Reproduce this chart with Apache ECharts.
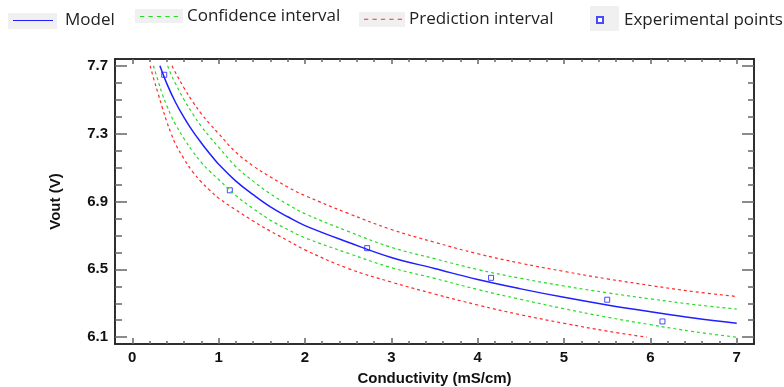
<!DOCTYPE html>
<html>
<head>
<meta charset="utf-8">
<script src="https://cdn.jsdelivr.net/npm/echarts@6/dist/echarts.min.js"></script>
<style>
  html, body { margin: 0; padding: 0; background: #fff; }
  #chart { width: 784px; height: 387px; }
</style>
</head>
<body>
<div id="chart"></div>
<script>
// values: [conductivity, vout]
const model = [[0.32,7.70],[0.4,7.595],[0.5,7.485],[0.6,7.395],[0.7,7.315],[0.8,7.245],[0.9,7.18],[1.0,7.12],[1.2,7.02],[1.4,6.94],[1.6,6.868],[1.8,6.81],[2.0,6.758],[2.5,6.66],[3.0,6.57],[3.5,6.505],[4.0,6.44],[4.5,6.385],[5.0,6.335],[5.5,6.29],[6.0,6.25],[6.5,6.213],[7.0,6.183]];
const ciUpper = [[0.41,7.70],[0.45,7.648],[0.5,7.595],[0.6,7.50],[0.7,7.417],[0.8,7.343],[0.9,7.279],[1.0,7.22],[1.2,7.105],[1.4,7.02],[1.6,6.945],[1.8,6.883],[2.0,6.828],[2.5,6.724],[3.0,6.63],[3.5,6.563],[4.0,6.499],[4.5,6.447],[5.0,6.402],[5.5,6.362],[6.0,6.326],[6.5,6.293],[7.0,6.266]];
const ciLower = [[0.245,7.70],[0.3,7.61],[0.35,7.53],[0.4,7.465],[0.45,7.405],[0.5,7.355],[0.6,7.27],[0.7,7.195],[0.8,7.13],[0.9,7.077],[1.0,7.03],[1.2,6.935],[1.4,6.858],[1.6,6.79],[1.8,6.735],[2.0,6.686],[2.5,6.595],[3.0,6.51],[3.5,6.447],[4.0,6.381],[4.5,6.323],[5.0,6.268],[5.5,6.218],[6.0,6.174],[6.5,6.133],[7.0,6.10]];
const piUpper = [[0.46,7.70],[0.5,7.66],[0.6,7.569],[0.7,7.488],[0.8,7.417],[0.9,7.356],[1.0,7.30],[1.2,7.19],[1.4,7.11],[1.6,7.045],[1.8,6.985],[2.0,6.935],[2.5,6.83],[3.0,6.735],[3.5,6.66],[4.0,6.592],[4.5,6.536],[5.0,6.488],[5.5,6.444],[6.0,6.405],[6.5,6.369],[7.0,6.34]];
const piLower = [[0.207,7.70],[0.25,7.62],[0.3,7.535],[0.35,7.45],[0.4,7.37],[0.45,7.30],[0.5,7.24],[0.6,7.15],[0.7,7.075],[0.8,7.015],[0.9,6.965],[1.0,6.92],[1.2,6.85],[1.4,6.785],[1.6,6.725],[1.8,6.67],[2.0,6.615],[2.5,6.505],[3.0,6.425],[3.5,6.355],[4.0,6.29],[4.5,6.232],[5.0,6.182],[5.5,6.136],[5.96,6.10]];
const expPoints = [[0.37,7.647],[1.13,6.966],[2.72,6.625],[4.155,6.45],[5.5,6.321],[6.14,6.193]];

// tick positions
const xMajor = [0, 1, 2, 3, 4, 5, 6, 7];
const xMinor = [0.2,0.4,0.6,0.8,1.2,1.4,1.6,1.8,2.2,2.4,2.6,2.8,3.2,3.4,3.6,3.8,4.2,4.4,4.6,4.8,5.2,5.4,5.6,5.8,6.2,6.4,6.6,6.8];
const yMajor = [6.1, 6.5, 6.9, 7.3, 7.7];
const yMinor = [6.2,6.3,6.4,6.6,6.7,6.8,7.0,7.1,7.2,7.4,7.5,7.6];

const chart = echarts.init(document.getElementById("chart"));

const labelFont = {
  fontFamily: "Liberation Sans, Arial",
  fontWeight: "bold",
  fontSize: 15,
  color: "#111",
};
const legendText = {
  fontFamily: "Open Sans",
  fontSize: 17,
  color: "#222",
  lineHeight: 18,
};

// legend glyphs: a solid bar and a row of short dashes
const solidIcon = "path://M0,0H40V1H0Z";
const dotIcon = "path://M0,0H4V1H0ZM8,0H12V1H8ZM16,0H20V1H16ZM24,0H28V1H24ZM32,0H36V1H32Z";

function xAx(pos, ticks, len, opts) {
  return Object.assign({
    type: "value",
    position: pos,
    min: -0.2,
    max: 7.2,
    axisLine: { show: true, onZero: false, lineStyle: { color: "#222", width: 1.5 } },
    axisTick: { show: true, inside: true, length: len, customValues: ticks, lineStyle: { color: "#666", width: 1.5 } },
    axisLabel: { show: false },
    splitLine: { show: false },
  }, opts || {});
}
function yAx(pos, ticks, len, opts) {
  return Object.assign({
    type: "value",
    position: pos,
    min: 6.06,
    max: 7.74,
    axisLine: { show: true, onZero: false, lineStyle: { color: "#222", width: 1.5 } },
    axisTick: { show: true, inside: true, length: len, customValues: ticks, lineStyle: { color: "#666", width: 1.5 } },
    axisLabel: { show: false },
    splitLine: { show: false },
  }, opts || {});
}

function legendBox(x, y, w, h) {
  return { type: "rect", z: -1, shape: { x: x, y: y, width: w, height: h }, style: { fill: "#f0f0f0" } };
}

const option = {
  animation: false,
  backgroundColor: "#fff",
  grid: { left: 115, right: 30, top: 59, bottom: 43, containLabel: false, outerBoundsMode: "none" },
  graphic: [
    legendBox(8, 13, 49, 16),
    legendBox(135, 9, 48, 14),
    legendBox(359, 12, 46, 15),
    legendBox(590, 6, 29, 25),
  ],
  legend: [
    { data: [{ name: "Model", icon: solidIcon }], left: 13, top: 11.5, padding: 0, itemWidth: 40, itemHeight: 1.5,
      textStyle: Object.assign({ padding: [0, 0, 0, 7] }, legendText) },
    { data: [{ name: "Confidence interval", icon: dotIcon }], left: 140, top: 7.5, padding: 0, itemWidth: 38, itemHeight: 1.5,
      textStyle: Object.assign({ padding: [0, 0, 0, 4] }, legendText) },
    { data: [{ name: "Prediction interval", icon: dotIcon }], left: 364, top: 10.3, padding: 0, itemWidth: 38, itemHeight: 1.5,
      textStyle: Object.assign({ padding: [0, 0, 0, 2] }, legendText) },
    { data: [{ name: "Experimental points", icon: "rect" }], left: 596, top: 11, padding: 0, itemWidth: 6, itemHeight: 6,
      textStyle: Object.assign({ padding: [0, 0, 0, 16] }, legendText) },
  ],
  xAxis: [
    xAx("bottom", xMajor, 6, {
      name: "Conductivity (mS/cm)",
      nameLocation: "middle",
      nameGap: 27,
      nameTextStyle: labelFont,
      axisLabel: Object.assign({ show: true, margin: 6, customValues: xMajor }, labelFont),
    }),
    xAx("bottom", xMinor, 3),
    xAx("top", xMajor, 5),
    xAx("top", xMinor, 3),
  ],
  yAxis: [
    yAx("left", yMajor, 12, {
      name: "Vout (V)",
      nameLocation: "middle",
      nameGap: 52,
      nameTextStyle: labelFont,
      axisLabel: Object.assign({ show: true, margin: 7, customValues: yMajor }, labelFont),
    }),
    yAx("left", yMinor, 7),
    yAx("right", yMajor, 12),
    yAx("right", yMinor, 6),
  ],
  series: [
    {
      name: "Model",
      type: "line",
      data: model,
      smooth: 0.4,
      symbol: "none",
      lineStyle: { color: "#1f1fff", width: 1.5 },
      itemStyle: { color: "#1f1fff" },
    },
    {
      name: "Confidence interval",
      type: "line",
      data: ciUpper,
      smooth: 0.4,
      symbol: "none",
      lineStyle: { color: "#22dd22", width: 1.2, type: [3, 3] },
      itemStyle: { color: "#22dd22" },
    },
    {
      name: "Confidence interval",
      type: "line",
      data: ciLower,
      smooth: 0.4,
      symbol: "none",
      lineStyle: { color: "#22dd22", width: 1.2, type: [3, 3] },
      itemStyle: { color: "#22dd22" },
    },
    {
      name: "Prediction interval",
      type: "line",
      data: piUpper,
      smooth: 0.4,
      symbol: "none",
      lineStyle: { color: "#ff2a2a", width: 1.2, type: [3, 3] },
      itemStyle: { color: "#ff2a2a" },
    },
    {
      name: "Prediction interval",
      type: "line",
      data: piLower,
      smooth: 0.4,
      symbol: "none",
      lineStyle: { color: "#ff2a2a", width: 1.2, type: [3, 3] },
      itemStyle: { color: "#ff2a2a" },
    },
    {
      name: "Experimental points",
      type: "scatter",
      data: expPoints,
      symbol: "rect",
      symbolSize: 5,
      itemStyle: { color: "#fff", borderColor: "#1f1fff", borderWidth: 1 },
    },
  ],
};
chart.setOption(option);
</script>
</body>
</html>
